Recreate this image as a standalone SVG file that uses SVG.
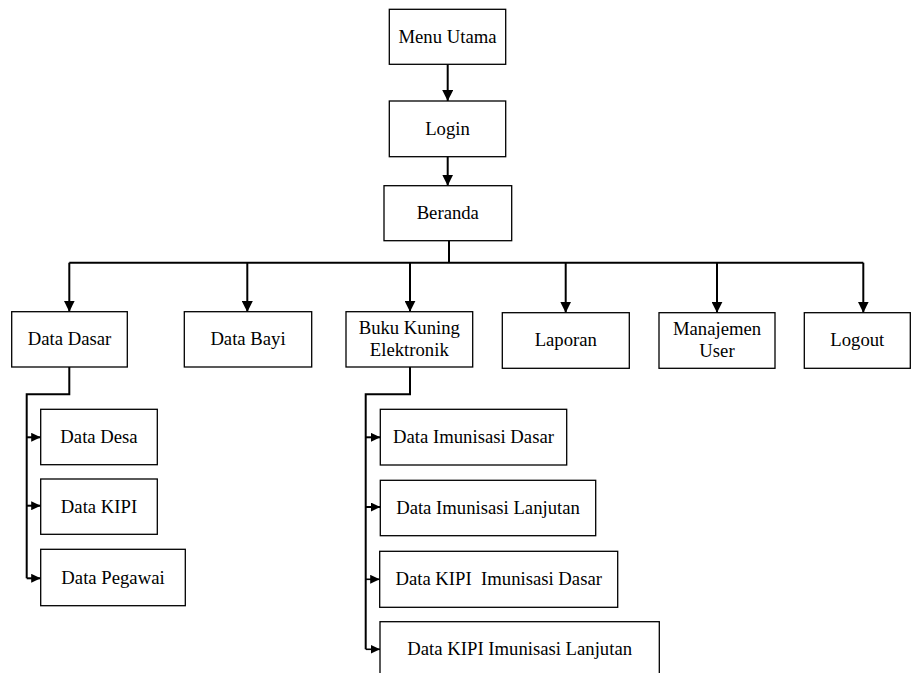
<svg xmlns="http://www.w3.org/2000/svg" width="911" height="673" viewBox="0 0 911 673">
<style>
rect.box{fill:#fff;stroke:#000;stroke-width:1.3}
text{font-family:"Liberation Serif","Times New Roman",serif;font-size:18.7px;fill:#000;text-anchor:middle;white-space:pre}
.conn path{fill:none;stroke:#000;stroke-width:2}
.conn path.thin{stroke-width:1.6}
</style>
<defs>
<marker id="ah" markerUnits="userSpaceOnUse" markerWidth="12" markerHeight="11" refX="11" refY="5.5" orient="auto">
<path d="M0,0 L11,5.5 L0,11 Z" fill="#000"/>
</marker>
<marker id="as" markerUnits="userSpaceOnUse" markerWidth="10" markerHeight="9" refX="9.5" refY="4.5" orient="auto">
<path d="M0,0 L9.5,4.5 L0,9 Z" fill="#000"/>
</marker>
</defs>
<rect width="911" height="673" fill="#fff"/>
<g class="conn">
<path d="M447.7,64.3 V101" marker-end="url(#ah)"/>
<path d="M447.7,156.7 V185.7" marker-end="url(#ah)"/>
<path d="M449,240.7 V262.7"/>
<path d="M69.3,262.7 H863.3"/>
<path d="M69.3,262.7 V311.7" marker-end="url(#ah)"/>
<path d="M247.3,262.7 V312" marker-end="url(#ah)"/>
<path d="M410,262.7 V311.7" marker-end="url(#ah)"/>
<path d="M565.7,262.7 V312.7" marker-end="url(#ah)"/>
<path d="M717,262.7 V312.7" marker-end="url(#ah)"/>
<path d="M863.3,262.7 V312.7" marker-end="url(#ah)"/>
<path d="M69.3,367 V394.3 H26.7 V578.3"/>
<path d="M26.7,437.3 H40.7" marker-end="url(#as)"/>
<path d="M26.7,505.7 H40.7" marker-end="url(#as)"/>
<path d="M26.7,578.3 H40.7" marker-end="url(#as)"/>
<path d="M410,367 V394.3 H365.7 V649.3"/>
<path d="M365.7,437.3 H380.3" marker-end="url(#as)"/>
<path d="M365.7,507 H380.3" marker-end="url(#as)"/>
<path class="thin" d="M365.7,579.3 H379.7" marker-end="url(#as)"/>
<path class="thin" d="M365.7,649.3 H380" marker-end="url(#as)"/>
</g>
<g id="menu-utama"><rect class="box" x="389.3" y="9.3" width="116.4" height="55"/><text x="447.5" y="43.3">Menu Utama</text></g>
<g id="login"><rect class="box" x="389.3" y="101" width="116.4" height="55.7"/><text x="447.5" y="134.8">Login</text></g>
<g id="beranda"><rect class="box" x="384" y="185.7" width="127.7" height="55"/><text x="447.8" y="219.2">Beranda</text></g>
<g id="data-dasar"><rect class="box" x="11.7" y="311.7" width="115.6" height="55.3"/><text x="69.5" y="345.3">Data Dasar</text></g>
<g id="data-bayi"><rect class="box" x="184.3" y="311.7" width="127.4" height="55.3"/><text x="248" y="345.3">Data Bayi</text></g>
<g id="buku-kuning"><rect class="box" x="346" y="311.7" width="126.7" height="55.3"/><text x="409.3" y="334">Buku Kuning</text><text x="409.3" y="355.7">Elektronik</text></g>
<g id="laporan"><rect class="box" x="502.3" y="312.7" width="127" height="55.6"/><text x="565.8" y="346">Laporan</text></g>
<g id="manajemen-user"><rect class="box" x="659" y="312.7" width="116" height="55.6"/><text x="717" y="335">Manajemen</text><text x="717" y="356.7">User</text></g>
<g id="logout"><rect class="box" x="804.3" y="312.7" width="106" height="55.6"/><text x="857.3" y="346">Logout</text></g>
<g id="data-desa"><rect class="box" x="40.7" y="409.3" width="116.6" height="55.4"/><text x="99" y="443">Data Desa</text></g>
<g id="data-kipi"><rect class="box" x="40.7" y="479" width="116.6" height="55.3"/><text x="99" y="512.5">Data KIPI</text></g>
<g id="data-pegawai"><rect class="box" x="40.7" y="549.3" width="144.6" height="56.4"/><text x="113" y="583.5">Data Pegawai</text></g>
<g id="data-imunisasi-dasar"><rect class="box" x="380.3" y="409.3" width="186.4" height="55.7"/><text x="473.5" y="443">Data Imunisasi Dasar</text></g>
<g id="data-imunisasi-lanjutan"><rect class="box" x="380.3" y="480.3" width="215.4" height="55.4"/><text x="488" y="514">Data Imunisasi Lanjutan</text></g>
<g id="data-kipi-imunisasi-dasar"><rect class="box" x="379.7" y="551.3" width="238" height="56"/><text x="498.7" y="585">Data KIPI  Imunisasi Dasar</text></g>
<g id="data-kipi-imunisasi-lanjutan"><rect class="box" x="380" y="621.7" width="279.3" height="60"/><text x="519.7" y="655">Data KIPI Imunisasi Lanjutan</text></g>
</svg>
